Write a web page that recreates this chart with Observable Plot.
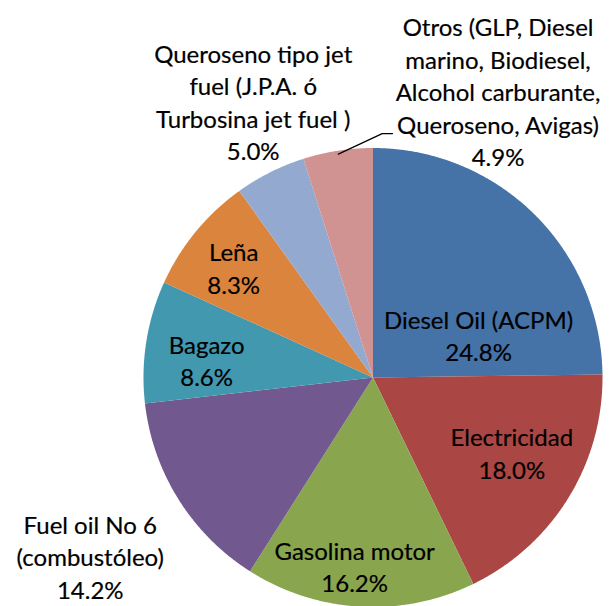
<!DOCTYPE html>
<html>
<head>
<meta charset="utf-8">
<script src="https://cdn.jsdelivr.net/npm/d3@7"></script>
<script src="https://cdn.jsdelivr.net/npm/@observablehq/plot@0.6"></script>
<style>
  html, body { margin: 0; padding: 0; background: #fff; }
  #chart svg { display: block; }
</style>
</head>
<body>
<div id="chart"></div>
<script>
// ---- data ----
const categories = [
  "Diesel Oil (ACPM)",
  "Electricidad",
  "Gasolina motor",
  "Fuel oil No 6\n(combustóleo)",
  "Bagazo",
  "Leña",
  "Queroseno tipo jet\nfuel (J.P.A. ó\nTurbosina jet fuel )",
  "Otros (GLP, Diesel\nmarino, Biodiesel,\nAlcohol carburante,\nQueroseno, Avigas)"
];
const shares = [24.8, 18.0, 16.2, 14.2, 8.6, 8.3, 5.0, 4.9];
const percentLabels = ["24.8%", "18.0%", "16.2%", "14.2%", "8.6%", "8.3%", "5.0%", "4.9%"];

// ---- layout / style ----
const colors = ["#4572A7", "#AA4643", "#89A54E", "#71588F", "#4198AF", "#DB843D", "#93A9CF", "#D19392"];
// label block centres, in units of the pie radius (x right, y down)
const labelLayout = [
  [0.46, -0.188], [0.605, 0.326], [-0.08, 0.82], [-1.232, 0.778],
  [-0.725, -0.078], [-0.607, -0.48], [-0.522, -1.205], [0.545, -1.25]
];

const W = 610, H = 606, R = 229.5, CX = 372.5, CY = 377;
const xDomain = [-CX / R, (W - CX) / R];
const yDomain = [-CY / R, (H - CY) / R];

const pie = d3.pie().sort(null).value(d => d)(shares);
const slices = pie.map((p, i) => {
  const pts = [{x: 0, y: 0}];
  const n = Math.max(4, Math.ceil((p.endAngle - p.startAngle) / 0.005));
  for (let k = 0; k <= n; k++) {
    const a = p.startAngle + (p.endAngle - p.startAngle) * k / n;
    pts.push({x: Math.sin(a), y: -Math.cos(a)});
  }
  pts.push({x: 0, y: 0});
  return {pts, color: colors[i], mid: (p.startAngle + p.endAngle) / 2};
});

const labels = categories.map((c, i) => ({
  x: labelLayout[i][0], y: labelLayout[i][1],
  text: c + "\n" + percentLabels[i]
}));

// leader line for "Otros"
const oi = 7;
const m = slices[oi].mid;
const leader = [
  {x: 0.985 * Math.sin(m), y: -0.985 * Math.cos(m)},
  {x: 0.04, y: -1.063},
  {x: 0.085, y: -1.063}
];

const chart = Plot.plot({
  width: W, height: H,
  margin: 0,
  x: {domain: xDomain, range: [0, W], axis: null},
  y: {domain: yDomain, range: [0, H], axis: null},
  style: {background: "#fff", overflow: "visible"},
  marks: [
    ...slices.map(s => Plot.line(s.pts, {x: "x", y: "y", fill: s.color, stroke: "none"})),
    Plot.line(leader, {x: "x", y: "y", stroke: "#000", strokeWidth: 1.3}),
    Plot.text(labels, {
      x: "x", y: "y", text: "text",
      fontSize: 24, lineHeight: 1.354,
      fontFamily: "Lato, 'Open Sans', sans-serif",
      fill: "#000", stroke: "#000", strokeWidth: 0.2
    })
  ]
});
document.getElementById("chart").appendChild(chart);
</script>
</body>
</html>
